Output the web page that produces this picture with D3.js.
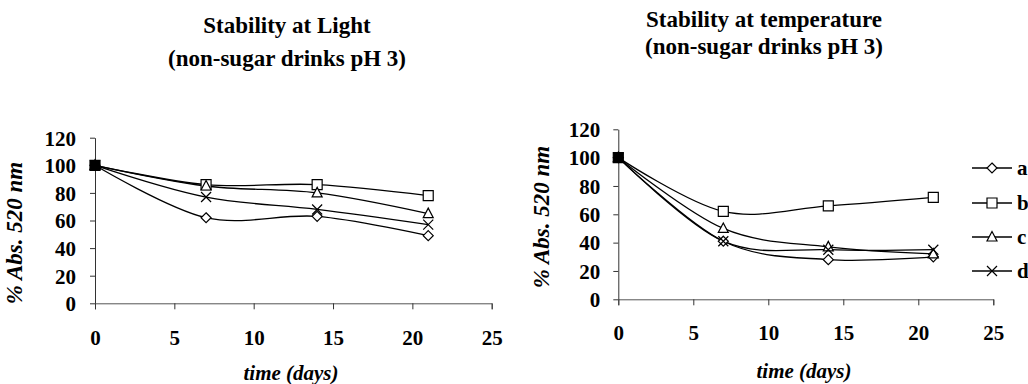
<!DOCTYPE html>
<html><head><meta charset="utf-8">
<script src="https://cdn.jsdelivr.net/npm/d3@7"></script>
<style>
svg text { font-family: "Times New Roman", Tinos, "Liberation Serif", FreeSerif, serif !important; font-weight: bold !important; }
</style>
</head><body style="margin:0">
<svg id="c" width="1028" height="384"></svg>
<script>
const days = [0, 7, 14, 21];
const seriesNames = ["a", "b", "c", "d"];
const markers = ["diamond", "square", "triangle", "cross"];
const lightA = [100, 62, 63, 49];
const lightB = [100, 86, 86, 78];
const lightC = [100, 85, 80, 65];
const lightD = [100, 77, 68, 57];
const tempA = [100, 41, 28, 30];
const tempB = [100, 62, 66, 72];
const tempC = [100, 50, 37, 32];
const tempD = [100, 41, 35, 35];
const xTicks = [0, 5, 10, 15, 20, 25];
const yTicks = [0, 20, 40, 60, 80, 100, 120];
const titlesLight = ["Stability at Light", "(non-sugar drinks pH 3)"];
const titlesTemp = ["Stability at temperature", "(non-sugar drinks pH 3)"];
const xTitle = "time (days)";
const yTitle = "% Abs. 520 nm";
const fontList = ["Times New Roman", "Tinos", "Liberation Serif", "FreeSerif"];

const svg = d3.select("#c");

function markerPath(type, r) {
  switch (type) {
    case "diamond": return `M0,${-r}L${r},0L0,${r}L${-r},0Z`;
    case "square": return `M${-r},${-r}H${r}V${r}H${-r}Z`;
    case "triangle": return `M0,${-r*1.1}L${r},${r*0.8}L${-r},${r*0.8}Z`;
    case "cross": return `M${-r},${-r}L${r},${r}M${-r},${r}L${r},${-r}`;
  }
}

function styleText(sel, size, italic) {
  sel.style("font-family", fontList.map(f => `"${f}"`).join(", ") + ", serif")
    .style("font-size", size + "px");
  if (italic) sel.style("font-style", "italic");
  sel.attr("fill", "#000");
}

function chart(opt) {
  const g = svg.append("g");
  const x = d3.scaleLinear().domain([0, 25]).range(opt.xr);
  const y = d3.scaleLinear().domain([0, 120]).range(opt.yr);
  const ya = g.append("g").attr("transform", `translate(${opt.xr[0]},0)`)
    .call(d3.axisLeft(y).tickValues(yTicks).tickSize(5).tickSizeOuter(0));
  ya.attr("font-family", null);
  ya.select(".domain").attr("stroke", "#333");
  ya.selectAll(".tick line").attr("stroke", "#333");
  ya.selectAll("text").call(styleText, 21).attr("x", opt.yLabX).attr("dy", "0.35em");
  const xa = g.append("g").attr("transform", `translate(0,${opt.yr[0]})`)
    .call(d3.axisBottom(x).tickValues(xTicks).tickSizeOuter(0).tickSize(6));
  xa.attr("font-family", null);
  xa.select(".domain").attr("stroke", "#555");
  xa.selectAll(".tick line").attr("stroke", "#333");
  xa.selectAll("text").call(styleText, 21).attr("y", opt.xLabY).attr("dy", 0);
  opt.titles.forEach((t, i) => {
    g.append("text").attr("x", opt.titleX).attr("y", opt.titleY[i])
      .attr("text-anchor", "middle").call(styleText, 23).text(t);
  });
  g.append("text").attr("x", opt.xTitleX).attr("y", opt.xTitleY)
    .attr("text-anchor", "middle").call(styleText, 21, true).text(xTitle);
  g.append("text").attr("transform", `translate(${opt.yTitleX},${opt.yTitleY}) rotate(-90)`)
    .attr("text-anchor", "middle").call(styleText, 23, true).text(yTitle);
  const line = d3.line().x((d, i) => x(days[i])).y(d => y(d)).curve(d3.curveCardinal.tension(0));
  opt.series.forEach((s) => {
    g.append("path").attr("d", line(s)).attr("fill", "none").attr("stroke", "#000").attr("stroke-width", 1.3);
  });
  opt.series.forEach((s, k) => {
    g.selectAll(null).data(s).join("path")
      .attr("transform", (d, i) => `translate(${x(days[i])},${y(d)})`)
      .attr("d", markerPath(markers[k], 5))
      .attr("fill", (d, i) => i === 0 ? "#000" : "#fff").attr("stroke", "#000").attr("stroke-width", 1.2);
  });
}

chart({xr: [95, 491.7], yr: [303.3, 137.7], yLabX: -19, xLabY: 42,
  titles: titlesLight, titleX: 287, titleY: [33, 66], xTitleX: 291, xTitleY: 380, yTitleX: 22, yTitleY: 233,
  series: [lightA, lightB, lightC, lightD]});
chart({xr: [618.3, 993.3], yr: [299.3, 129.3], yLabX: -18, xLabY: 41,
  titles: titlesTemp, titleX: 764, titleY: [27, 54], xTitleX: 804, xTitleY: 378, yTitleX: 549, yTitleY: 217,
  series: [tempA, tempB, tempC, tempD]});

const legY = [168, 203, 237, 271];
const lg = svg.append("g");
seriesNames.forEach((n, k) => {
  lg.append("line").attr("x1", 972).attr("x2", 1012).attr("y1", legY[k]).attr("y2", legY[k]).attr("stroke", "#000").attr("stroke-width", 1.3);
  lg.append("path").attr("transform", `translate(992,${legY[k]})`).attr("d", markerPath(markers[k], 5))
    .attr("fill", "#fff").attr("stroke", "#000").attr("stroke-width", 1.2);
  lg.append("text").attr("x", 1017).attr("y", legY[k]).attr("dy", "0.35em").call(styleText, 21).text(n);
});
</script></body></html>
